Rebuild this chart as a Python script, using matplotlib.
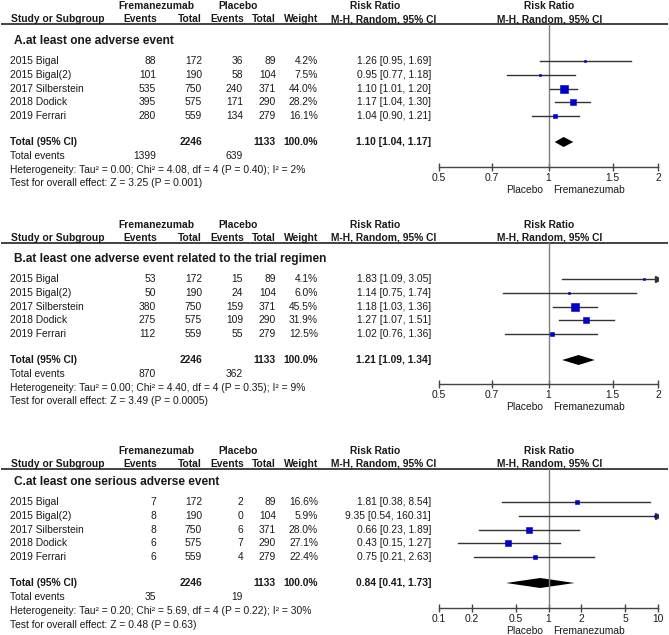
import numpy as np
import matplotlib
matplotlib.use('Agg')
import matplotlib.pyplot as plt

plt.rcParams['font.family'] = ['Liberation Sans', 'DejaVu Sans']

# ---------------- data ----------------
studies = ['2015 Bigal', '2015 Bigal(2)', '2017 Silberstein', '2018 Dodick', '2019 Ferrari']
fre_total = [172, 190, 750, 575, 559]
pla_total = [89, 104, 371, 290, 279]
sum_fre_total = 2246
sum_pla_total = 1133

a_title = 'A.at least one adverse event'
a_fre_events = [88, 101, 535, 395, 280]
a_pla_events = [36, 58, 240, 171, 134]
a_weight = [4.2, 7.5, 44.0, 28.2, 16.1]
a_rr = [1.26, 0.95, 1.10, 1.17, 1.04]
a_lo = [0.95, 0.77, 1.01, 1.04, 0.90]
a_hi = [1.69, 1.18, 1.20, 1.30, 1.21]
a_pooled = [1.10, 1.04, 1.17]
a_tot_events = [1399, 639]
a_het = 'Heterogeneity: Tau\u00b2 = 0.00; Chi\u00b2 = 4.08, df = 4 (P = 0.40); I\u00b2 = 2%'
a_test = 'Test for overall effect: Z = 3.25 (P = 0.001)'

b_title = 'B.at least one adverse event related to the trial regimen'
b_fre_events = [53, 50, 380, 275, 112]
b_pla_events = [15, 24, 159, 109, 55]
b_weight = [4.1, 6.0, 45.5, 31.9, 12.5]
b_rr = [1.83, 1.14, 1.18, 1.27, 1.02]
b_lo = [1.09, 0.75, 1.03, 1.07, 0.76]
b_hi = [3.05, 1.74, 1.36, 1.51, 1.36]
b_pooled = [1.21, 1.09, 1.34]
b_tot_events = [870, 362]
b_het = 'Heterogeneity: Tau\u00b2 = 0.00; Chi\u00b2 = 4.40, df = 4 (P = 0.35); I\u00b2 = 9%'
b_test = 'Test for overall effect: Z = 3.49 (P = 0.0005)'

c_title = 'C.at least one serious adverse event'
c_fre_events = [7, 8, 8, 6, 6]
c_pla_events = [2, 0, 6, 7, 4]
c_weight = [16.6, 5.9, 28.0, 27.1, 22.4]
c_rr = [1.81, 9.35, 0.66, 0.43, 0.75]
c_lo = [0.38, 0.54, 0.23, 0.15, 0.21]
c_hi = [8.54, 160.31, 1.89, 1.27, 2.63]
c_pooled = [0.84, 0.41, 1.73]
c_tot_events = [35, 19]
c_het = 'Heterogeneity: Tau\u00b2 = 0.20; Chi\u00b2 = 5.69, df = 4 (P = 0.22); I\u00b2 = 30%'
c_test = 'Test for overall effect: Z = 0.48 (P = 0.63)'

ab_ticks = [0.5, 0.7, 1, 1.5, 2]
ab_ticklabels = ['0.5', '0.7', '1', '1.5', '2']
c_ticks = [0.1, 0.2, 0.5, 1, 2, 5, 10]
c_ticklabels = ['0.1', '0.2', '0.5', '1', '2', '5', '10']

# ---------------- layout ----------------
W, H = 669, 635
FS = 7.4
TS = 8.6
TXT = '#1a1a1a'
BLUE = '#0000CC'
LINE = '#333333'

fig = plt.figure(figsize=(W / 100, H / 100), dpi=100)
tx = fig.add_axes([0, 0, 1, 1])
tx.set_xlim(0, W)
tx.set_ylim(H, 0)
tx.axis('off')


def t(x, y, s, ha='left', bold=False, size=FS):
    tx.text(x, y, s, ha=ha, va='center', fontsize=size, color=TXT,
            fontweight='bold' if bold else 'normal')


def panel(base, hbase, axis_y, title, fe, pe, wt, rr, lo, hi, pooled, tot_ev,
          het, test, ticks, ticklabels, xlim):
    y1, y2, yl = hbase + 6, hbase + 19, hbase + 23.5
    t(156, y1, 'Fremanezumab', 'center', True)
    t(238, y1, 'Placebo', 'center', True)
    t(375, y1, 'Risk Ratio', 'center', True)
    t(549, y1, 'Risk Ratio', 'center', True)
    t(11, y2, 'Study or Subgroup', 'left', True)
    t(157, y2, 'Events', 'right', True)
    t(202, y2, 'Total', 'right', True)
    t(244, y2, 'Events', 'right', True)
    t(276, y2, 'Total', 'right', True)
    t(318, y2, 'Weight', 'right', True)
    t(384, y2, 'M-H, Random, 95% CI', 'center', True)
    t(550, y2, 'M-H, Random, 95% CI', 'center', True)
    tx.plot([1, 668], [yl, yl], color='#222222', lw=1.2, solid_capstyle='butt')

    t(14, base + 41, title, 'left', True, TS)
    rows = base + 61 + 13.8 * np.arange(len(studies))
    for i, name in enumerate(studies):
        y = rows[i]
        t(10, y, name)
        t(156, y, str(fe[i]), 'right')
        t(202, y, str(fre_total[i]), 'right')
        t(243, y, str(pe[i]), 'right')
        t(276, y, str(pla_total[i]), 'right')
        t(318, y, f'{wt[i]:.1f}%', 'right')
        t(431, y, f'{rr[i]:.2f} [{lo[i]:.2f}, {hi[i]:.2f}]', 'right')
    yt = base + 142
    t(10, yt, 'Total (95% CI)', 'left', True)
    t(202, yt, str(sum_fre_total), 'right', True)
    t(276, yt, str(sum_pla_total), 'right', True)
    t(318, yt, '100.0%', 'right', True)
    t(431, yt, f'{pooled[0]:.2f} [{pooled[1]:.2f}, {pooled[2]:.2f}]', 'right', True)
    t(10, base + 156, 'Total events')
    t(156, base + 156, str(tot_ev[0]), 'right')
    t(243, base + 156, str(tot_ev[1]), 'right')
    t(10, base + 170, het)
    t(10, base + 183.5, test)

    # forest axes
    ax = fig.add_axes([439 / W, 1 - axis_y / H, 219 / W, (axis_y - yl) / H])
    ax.set_xscale('log')
    ax.set_xlim(xlim)
    ax.set_ylim(axis_y, yl)
    ax.patch.set_alpha(0)
    for s in ['top', 'left', 'right']:
        ax.spines[s].set_visible(False)
    ax.spines['bottom'].set_color('#444444')
    ax.spines['bottom'].set_linewidth(1)
    ax.axvline(1, color='#7f7f7f', lw=1)
    for i in range(len(studies)):
        y = rows[i]
        l = max(lo[i], xlim[0])
        h = min(hi[i], xlim[1])
        ax.plot([l, h], [y, y], color=LINE, lw=1)
        if hi[i] > xlim[1]:
            ax.plot([h], [y], marker='>', ms=4, color=LINE, mec=LINE)
        if lo[i] < xlim[0]:
            ax.plot([l], [y], marker='<', ms=4, color=LINE, mec=LINE)
        ms = max(1.6, 0.76 * np.sqrt(wt[i]))
        ax.plot([rr[i]], [y], marker='s', ms=ms, color=BLUE, mec=BLUE, mew=0.4)
    ax.fill([pooled[1], pooled[0], pooled[2], pooled[0]],
            [yt, yt - 5, yt, yt + 5], color='black', lw=0)
    ax.set_xticks(ticks)
    ax.set_xticklabels(ticklabels)
    ax.set_xticks([], minor=True)
    ax.set_yticks([])
    ax.tick_params(axis='x', direction='inout', length=6, width=1,
                   color='#444444', labelsize=FS, labelcolor=TXT, pad=1.5)
    t(543, axis_y + 23, 'Placebo', 'right')
    t(553, axis_y + 23, 'Fremanezumab', 'left')


panel(0, 0, 167, a_title, a_fre_events, a_pla_events, a_weight, a_rr, a_lo, a_hi,
      a_pooled, a_tot_events, a_het, a_test, ab_ticks, ab_ticklabels, (0.5, 2))
panel(218, 219, 384, b_title, b_fre_events, b_pla_events, b_weight, b_rr, b_lo, b_hi,
      b_pooled, b_tot_events, b_het, b_test, ab_ticks, ab_ticklabels, (0.5, 2))
panel(441, 445, 608, c_title, c_fre_events, c_pla_events, c_weight, c_rr, c_lo, c_hi,
      c_pooled, c_tot_events, c_het, c_test, c_ticks, c_ticklabels, (0.1, 10))

fig.savefig('out.png', dpi=100, facecolor='white')
